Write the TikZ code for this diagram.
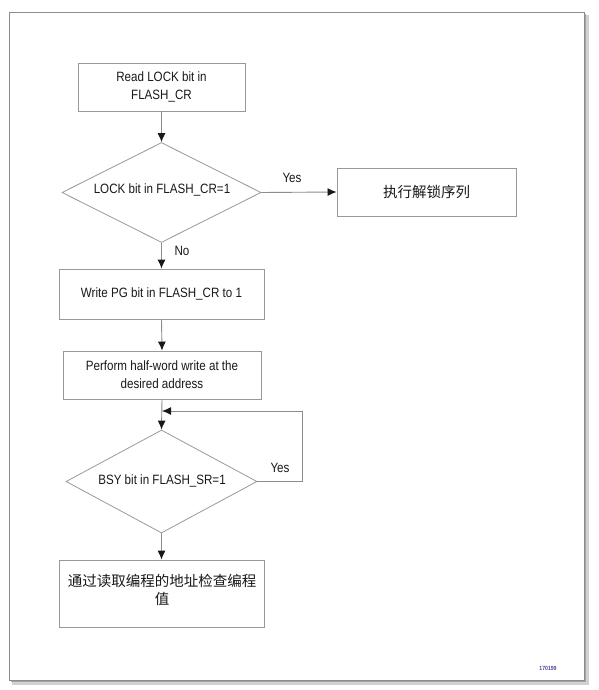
\documentclass[tikz,border=0pt]{standalone}
\usepackage{fontspec}
\setmainfont{Liberation Sans}[FakeStretch=0.86]
\newfontfamily\cjk{Noto Sans CJK SC}
\usetikzlibrary{shapes.geometric,arrows.meta,positioning}
\begin{document}
\begin{tikzpicture}[x=1pt,y=-1pt,
  box/.style={draw=black!40,line width=0.9pt,rectangle,inner sep=0pt,align=center,text=black!90,font=\fontsize{13.5}{18}\selectfont},
  dia/.style={draw=black!40,line width=0.8pt,diamond,inner sep=0pt,align=center},
  conn/.style={draw=black!45,line width=0.9pt,-{Latex[length=9pt,width=8pt,color=black!90]}},
  lbl/.style={text=black!90,font=\fontsize{13.5}{16}\selectfont,inner sep=0pt}]
\useasboundingbox (0,0) rectangle (598,690);
% frame with shadow
\fill[black!18] (12,681) rectangle (588,685);
\fill[black!18] (585,15) rectangle (589,685);
\fill[black!35] (11,680) rectangle (586,682);
\fill[black!35] (584,14) rectangle (586,682);
\draw[black!45,line width=0.8pt,fill=white] (9,12) rectangle (584,680);
% nodes
\node[box,minimum width=167pt,minimum height=48pt] (read) at (161.5,87) {Read LOCK bit in\\FLASH\_CR};
\node[dia,minimum width=199pt,minimum height=100pt] (d1) at (161.5,192.5) {};
\node[lbl] at (162,190) {LOCK bit in FLASH\_CR=1};
\node[box,minimum width=179pt,minimum height=48pt,font=\cjk\fontsize{14.5}{17}\selectfont] (unlock) at (426.5,192) {执行解锁序列};
\node[box,minimum width=205pt,minimum height=50pt] (pg) at (161.5,294) {Write PG bit in FLASH\_CR to 1};
\node[box,minimum width=198pt,minimum height=48pt] (perf) at (162,375) {Perform half-word write at the\\desired address};
\node[dia,minimum width=191pt,minimum height=103pt] (d2) at (161.5,481.5) {};
\node[lbl] at (162,481) {BSY bit in FLASH\_SR=1};
\node[box,minimum width=205pt,minimum height=67pt] (chk) at (161.5,593.5) {};
\node[lbl,font=\cjk\fontsize{14.5}{18}\selectfont,align=center] at (162,590) {通过读取编程的地址检查编程\\值};
\coordinate (loopc) at (162,411);
\coordinate (loopr) at (302,411);
% connectors
\draw[conn] (read.south) -- (d1.north);
\draw[conn] (d1.east) -- (unlock.west);
\node[lbl] at (292,178) {Yes};
\draw[conn] (d1.south) -- (pg.north);
\node[lbl] at (182,251) {No};
\draw[conn] (pg.south) -- (perf.north);
\draw[conn] (perf.south) -- (d2.north);
\draw[conn] (d2.east) -- (d2.east -| loopr) -- (loopr) -- (loopc);
\node[lbl] at (280,468) {Yes};
\draw[conn] (d2.south) -- (chk.north);
\node[text=blue!40!black!70,font=\fontsize{6}{7}\selectfont\bfseries,inner sep=0pt] at (548,668) {170199};
\end{tikzpicture}
\end{document}
